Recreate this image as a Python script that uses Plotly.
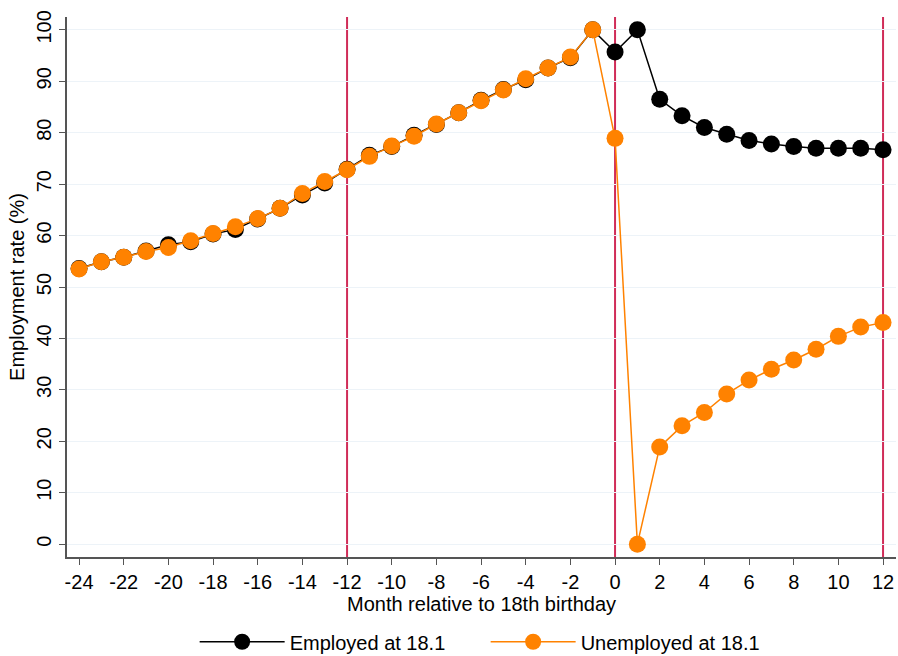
import plotly.graph_objects as go

months = list(range(-24, 13))

employed = [53.6, 54.9, 55.8, 57.0, 58.2, 58.8, 60.3, 61.2, 63.2, 65.3, 67.9, 70.2,
            72.9, 75.6, 77.3, 79.5, 81.6, 83.9, 86.3, 88.4, 90.3, 92.6, 94.6, 100.0,
            95.7, 100.0, 86.5, 83.3, 81.0, 79.7, 78.5, 77.8, 77.3, 77.0, 77.0, 77.0, 76.7]

unemployed = [53.5, 54.9, 55.8, 56.9, 57.7, 59.0, 60.4, 61.7, 63.3, 65.3, 68.2, 70.5,
              72.8, 75.4, 77.4, 79.3, 81.7, 83.9, 86.2, 88.3, 90.5, 92.6, 94.7, 100.0,
              78.9, 0.0, 18.9, 23.0, 25.6, 29.2, 31.9, 34.0, 35.8, 37.9, 40.4, 42.2, 43.1]

ref_lines = [-12, 0, 12]
x_ticks = list(range(-24, 13, 2))
x_tick_labels = [str(v) for v in x_ticks]
y_ticks = list(range(0, 101, 10))
y_tick_labels = [str(v) for v in y_ticks]

FONT = "Liberation Sans, Arial, sans-serif"

fig = go.Figure()
fig.add_trace(go.Scatter(
    x=months, y=employed, mode="lines+markers", name="Employed at 18.1",
    line=dict(color="#000000", width=1.5),
    marker=dict(color="#000000", size=17),
))
fig.add_trace(go.Scatter(
    x=months, y=unemployed, mode="lines+markers", name="Unemployed at 18.1",
    line=dict(color="#ff8200", width=1.5),
    marker=dict(color="#ff8200", size=17),
))

for xv in ref_lines:
    fig.add_shape(type="line", x0=xv, x1=xv, xref="x", y0=0, y1=1, yref="paper",
                  line=dict(color="#d02c58", width=2), layer="between")

fig.update_layout(
    width=898, height=656,
    paper_bgcolor="white", plot_bgcolor="white",
    margin=dict(l=67, r=2, t=17, b=99, autoexpand=False),
    font=dict(family=FONT, size=20, color="#000000"),
    showlegend=True,
    legend=dict(orientation="h", x=0.505, xanchor="center", y=-0.157, yanchor="middle",
                font=dict(size=20), itemwidth=85, entrywidth=191, entrywidthmode="pixels"),
    xaxis=dict(
        range=[-24.54, 12.58], tickmode="array", tickvals=x_ticks, ticktext=x_tick_labels,
        ticks="outside", ticklen=6, tickcolor="#555", showgrid=False, zeroline=False,
        showline=True, linecolor="#555", linewidth=1.5, automargin=False,
        ticklabeloverflow="allow",
        title=dict(text="Month relative to 18th birthday", font=dict(size=20), standoff=0),
        tickfont=dict(size=20),
    ),
    yaxis=dict(
        range=[-2.5, 102.5], tickmode="array", tickvals=y_ticks, ticktext=y_tick_labels,
        ticks="outside", ticklen=6, tickcolor="#555", showgrid=True, gridcolor="#edf3f8",
        gridwidth=1, zeroline=False, showline=True, linecolor="#555", linewidth=1.5,
        tickangle=-90, tickfont=dict(size=20), automargin=False,
        title=dict(text="Employment rate (%)", font=dict(size=20), standoff=3),
    ),
)

fig.write_html(
    "out.html",
    config={"displayModeBar": False},
    post_script="document.body.style.margin='0';document.body.style.overflow='hidden';",
)
